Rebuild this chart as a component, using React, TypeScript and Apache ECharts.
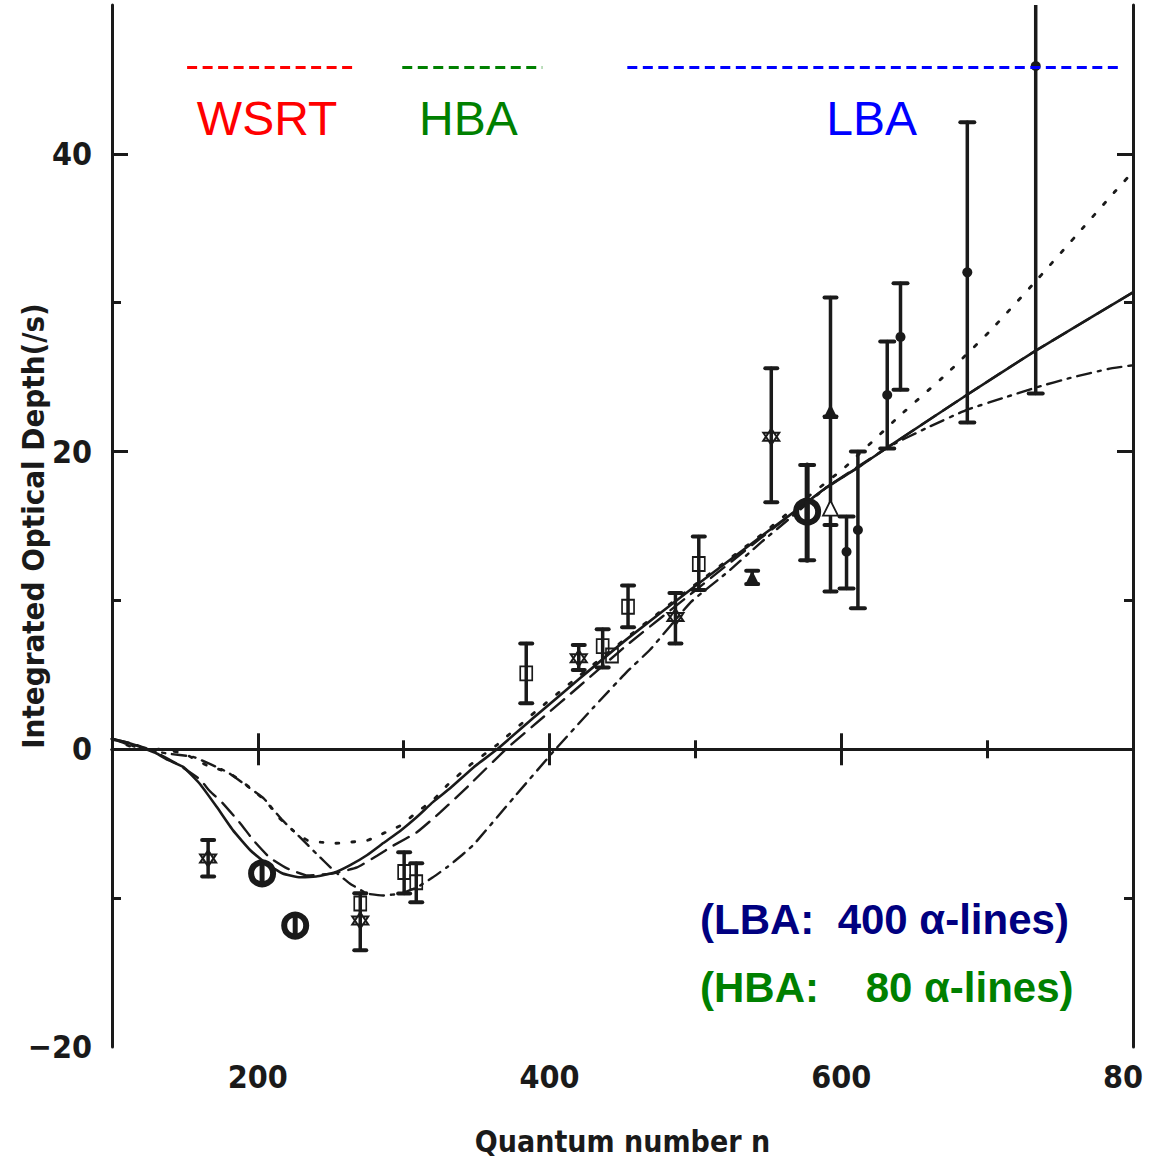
import React, { useEffect, useRef } from 'react';
import * as echarts from 'echarts';

// ---------- axes ----------
const X_MIN = 100;
const X_MAX = 800;
const Y_MIN = -20;
const Y_MAX = 50;
const xLabelTicks = [200, 400, 600, 800];
const xMajorTicks = [200, 400, 600];
const xMinorTicks = [300, 500, 700];
const yLabelTicks = [-20, 0, 20, 40];
const yMajorTicks = [0, 20, 40];
const yMinorTicks = [-10, 10, 30];

// ---------- model curves ----------
const solidN = [100, 112, 122, 131, 138, 149, 160, 172, 183, 195, 206, 217, 229, 240, 252, 263, 275, 286, 298, 309, 320, 332, 348, 364, 390, 420, 453, 499, 545, 567, 590, 611, 632, 686, 732, 800];
const solidV = [0.7, 0.4, 0.05, -0.3, -0.7, -1.2, -2.3, -3.9, -5.45, -6.8, -7.7, -8.35, -8.6, -8.55, -8.3, -7.8, -7.1, -6.3, -5.45, -4.55, -3.55, -2.6, -1.2, 0, 2.2, 4.7, 7.4, 10.9, 14.3, 15.9, 17.6, 18.9, 20.3, 23.8, 26.7, 30.7];

const dotN = [100, 114, 128, 138, 149, 165, 179, 188, 197, 206, 215, 224, 234, 243, 252, 263, 275, 286, 298, 309, 320, 330, 345, 364, 390, 420, 453, 499, 545, 575, 602, 640, 672, 702, 732, 760, 787, 800];
const dotV = [0.7, 0.15, 0.05, -0.07, -0.27, -1.08, -1.53, -2.09, -2.76, -3.55, -4.64, -5.45, -6.12, -6.24, -6.32, -6.24, -6.12, -5.65, -5.11, -4.22, -3.43, -2.4, -1.1, 0.3, 2.5, 4.9, 7.5, 11.0, 14.4, 16.8, 18.9, 22.4, 25.2, 28.1, 31.3, 34.4, 37.4, 38.8];

const dashN = [100, 115, 130, 145, 160, 167, 176, 188, 197, 208, 220, 234, 252, 268, 282, 293, 309, 325, 345, 370, 395, 420, 453, 499, 545, 590, 632, 686, 732, 800];
const dashV = [0.7, 0.35, -0.2, -1.0, -2.0, -2.8, -3.63, -4.98, -6.12, -7.27, -8.0, -8.48, -8.34, -7.94, -7.13, -6.46, -5.58, -4.24, -2.4, 0, 2.1, 4.2, 7.0, 10.6, 14.2, 17.6, 20.3, 23.8, 26.7, 30.7];

const dashDotN = [100, 115, 137, 156, 179, 190, 204, 211, 217, 229, 240, 252, 263, 275, 286, 298, 309, 320, 330, 340, 348, 375, 404, 430, 453, 469, 497, 522, 545, 567, 590, 611, 632, 661, 686, 711, 735, 757, 783, 800];
const dashDotV = [0.7, 0.2, -0.27, -0.52, -1.53, -2.29, -3.3, -4.1, -4.78, -5.92, -7.0, -8.14, -9.01, -9.69, -9.82, -9.69, -9.28, -8.6, -7.9, -7.1, -6.4, -3.3, 0, 2.8, 5.2, 6.7, 9.9, 11.9, 13.9, 15.7, 17.6, 18.9, 20.3, 21.7, 22.8, 23.6, 24.35, 24.95, 25.55, 25.8];

const zeroLineN = [100, 800];
const zeroLineV = [0, 0];

// ---------- measurements ----------
const starPts = [[165.9, -7.33], [270.2, -11.5], [420, 6.12], [486.3, 8.88], [552, 21.0]];
const starErr = [[165.9, -8.54, -6.1], [270.2, -13.5, -9.67], [420, 5.33, 7.0], [486.3, 7.1, 10.5], [552, 16.6, 25.6]];

const squarePts = [[384, 5.1], [436.4, 6.93], [442.8, 6.3], [453.8, 9.57], [502.3, 12.45], [270.2, -10.36], [300.3, -8.25], [308.6, -8.93]];
const squareErr = [[384, 3.1, 7.1], [436.4, 5.5, 8.07], [453.8, 8.2, 11.0], [502.3, 10.7, 14.3], [300.3, -9.69, -6.91], [308.6, -10.28, -7.66]];

const phiPts = [[202.9, -8.34], [225.6, -11.84], [576.6, 15.96]];
const phiErr = [[576.6, 12.7, 19.1]];

const triFilledPts = [[592.6, 22.7], [538.9, 11.5]];
const triFilledErr = [[592.6, 10.6, 30.35], [538.9, 11.1, 12.0]];
const triHollowPts = [[592.6, 16.2]];
const triHollowErr = [[592.6, 15.07, 22.35]];

const dotPts = [[603.6, 13.27], [611.4, 14.73], [631.5, 23.8], [640.6, 27.7], [686.4, 32.04], [733.3, 45.9]];
const dotErr = [[603.6, 10.8, 15.63], [611.4, 9.47, 20.0], [631.5, 20.2, 27.4], [640.6, 24.15, 31.3], [686.4, 21.95, 42.13], [733.3, 23.9, 56]];

// ---------- frequency ranges (top) ----------
const rangeNames = ['WSRT', 'HBA', 'LBA'];
const rangeStart = [151.5, 299, 453.3];
const rangeEnd = [268.1, 395, 790.2];
const rangeLevel = 45.8;
const rangeLabelN = [206.3, 344.3, 620.8];
const rangeLabelLevel = 42.4;
const rangeColors = ['#ff0000', '#008000', '#0000ff'];

const noteTexts = ['(LBA:\u00a0\u00a0400 α-lines)', '(HBA:\u00a0\u00a0\u00a0\u00a080 α-lines)'];

const INK = '#1a1a1a';
const AXIS_FONT = "'DejaVu Sans Condensed', 'DejaVu Sans', sans-serif";
const TEXT_FONT = "'Liberation Sans', Arial, sans-serif";

const zip = (a: number[], b: number[]) => a.map((v, i) => [v, b[i]]);

function errRender(lineW: number, capW: number) {
  return (_p: any, api: any) => {
    const x = api.value(0);
    const lo = api.coord([x, api.value(1)]);
    const hi = api.coord([x, api.value(2)]);
    const st = { stroke: INK, lineWidth: lineW, lineCap: 'round' };
    return {
      type: 'group',
      children: [
        { type: 'line', shape: { x1: lo[0], y1: lo[1], x2: hi[0], y2: hi[1] }, style: st },
        { type: 'line', shape: { x1: lo[0] - capW, y1: lo[1], x2: lo[0] + capW, y2: lo[1] }, style: { ...st, lineWidth: 4 } },
        { type: 'line', shape: { x1: hi[0] - capW, y1: hi[1], x2: hi[0] + capW, y2: hi[1] }, style: { ...st, lineWidth: 4 } },
      ],
    };
  };
}

function errSeries(data: number[][], lineW = 3.5, capW = 6) {
  return {
    type: 'custom',
    clip: true,
    silent: true,
    z: 3,
    renderItem: errRender(lineW, capW),
    encode: { x: 0, y: [1, 2] },
    data,
  };
}

function curve(n: number[], v: number[], dash: any, width = 2.4) {
  return {
    type: 'line',
    data: zip(n, v),
    showSymbol: false,
    symbol: 'none',
    smooth: 0.12,
    silent: true,
    z: 2,
    lineStyle: { color: INK, width, type: dash, cap: 'round', opacity: 1 },
  };
}

const starPath = 'path://M0,-10L8.66,5L-8.66,5Z M0,10L8.66,-5L-8.66,-5Z';

export default function App() {
  const ref = useRef<HTMLDivElement>(null);
  useEffect(() => {
    if (!ref.current) return;
    const chart = echarts.init(ref.current, null, { renderer: 'svg' });

    const baseX = { type: 'value', min: X_MIN, max: X_MAX, interval: 100, splitLine: { show: false } };
    const baseY = { type: 'value', min: Y_MIN, max: Y_MAX, interval: 10, splitLine: { show: false } };
    const axisLineOn = { show: true, lineStyle: { color: INK, width: 3 } };
    const tickStyle = (len: number, vals: number[]) => ({ show: true, inside: true, length: len, customValues: vals, lineStyle: { color: INK, width: 3 } });

    const option: any = {
      animation: false,
      backgroundColor: '#ffffff',
      grid: { left: 112, right: 27, top: 5, bottom: 111, containLabel: false, outerBoundsMode: 'none' },
      xAxis: [
        {
          ...baseX,
          position: 'bottom',
          axisLine: axisLineOn,
          axisTick: tickStyle(16, xMajorTicks),
          axisLabel: {
            customValues: xLabelTicks,
            margin: 14,
            color: INK,
            fontFamily: AXIS_FONT,
            fontWeight: 'bold',
            fontSize: 32,
            formatter: (v: number) => (v === 800 ? '{e|80}' : String(v)),
            rich: { e: { padding: [0, 20, 0, 0], color: INK, fontFamily: AXIS_FONT, fontWeight: 'bold', fontSize: 32 } },
          },
          name: 'Quantum number n',
          nameLocation: 'middle',
          nameGap: 79,
          nameMoveOverlap: false,
          nameTextStyle: { color: INK, fontFamily: AXIS_FONT, fontWeight: 'bold', fontSize: 30 },
        },
        { ...baseX, position: 'bottom', axisLine: { show: false }, axisTick: tickStyle(9, xMinorTicks), axisLabel: { show: false } },
        { ...baseX, position: 'top', axisLine: axisLineOn, axisTick: tickStyle(16, xMajorTicks), axisLabel: { show: false } },
        { ...baseX, position: 'top', axisLine: { show: false }, axisTick: tickStyle(9, xMinorTicks), axisLabel: { show: false } },
      ],
      yAxis: [
        {
          ...baseY,
          position: 'left',
          axisLine: axisLineOn,
          axisTick: tickStyle(16, yMajorTicks),
          axisLabel: {
            customValues: yLabelTicks,
            margin: 20,
            color: INK,
            fontFamily: AXIS_FONT,
            fontWeight: 'bold',
            fontSize: 32,
            formatter: (v: number) => (v < 0 ? '\u2212' + Math.abs(v) : String(v)),
          },
          name: 'Integrated Optical Depth(/s)',
          nameLocation: 'middle',
          nameGap: 64,
          nameMoveOverlap: false,
          nameTextStyle: { color: INK, fontFamily: AXIS_FONT, fontWeight: 'bold', fontSize: 31 },
        },
        { ...baseY, position: 'left', axisLine: { show: false }, axisTick: tickStyle(9, yMinorTicks), axisLabel: { show: false } },
        { ...baseY, position: 'right', axisLine: axisLineOn, axisTick: tickStyle(16, yMajorTicks), axisLabel: { show: false } },
        { ...baseY, position: 'right', axisLine: { show: false }, axisTick: tickStyle(9, yMinorTicks), axisLabel: { show: false } },
      ],
      series: [
        {
          type: 'line',
          data: zip(zeroLineN, zeroLineV),
          showSymbol: false,
          symbol: 'none',
          silent: true,
          z: 1,
          lineStyle: { color: INK, width: 2 },
        },
        curve(solidN, solidV, 'solid', 2.6),
        curve(dashN, dashV, [17, 9], 2.4),
        curve(dotN, dotV, [3, 13], 2.8),
        curve(dashDotN, dashDotV, [14, 7, 3, 7], 2.4),
        errSeries(starErr),
        errSeries(squareErr),
        errSeries(phiErr, 5, 7),
        errSeries(triFilledErr, 3.5, 6),
        errSeries(triHollowErr, 3, 6),
        errSeries(dotErr, 3.5, 7),
        {
          type: 'scatter',
          data: starPts,
          symbol: starPath,
          symbolSize: 16,
          z: 4,
          silent: true,
          itemStyle: { color: 'rgba(255,255,255,0)', borderColor: INK, borderWidth: 2, opacity: 1 },
        },
        {
          type: 'scatter',
          data: squarePts,
          symbol: 'rect',
          symbolSize: [12, 14],
          z: 4,
          silent: true,
          itemStyle: { color: 'rgba(255,255,255,0)', borderColor: INK, borderWidth: 1.8, opacity: 1 },
        },
        {
          type: 'scatter',
          data: triFilledPts,
          symbol: 'triangle',
          symbolSize: 15,
          z: 4,
          silent: true,
          itemStyle: { color: INK, opacity: 1 },
        },
        {
          type: 'scatter',
          data: triHollowPts,
          symbol: 'triangle',
          symbolSize: 15,
          z: 4,
          silent: true,
          itemStyle: { color: '#ffffff', borderColor: INK, borderWidth: 1.8, opacity: 1 },
        },
        {
          type: 'scatter',
          data: dotPts,
          symbol: 'circle',
          symbolSize: 10,
          z: 4,
          silent: true,
          itemStyle: { color: INK, opacity: 1 },
        },
        {
          type: 'custom',
          clip: true,
          silent: true,
          z: 5,
          data: phiPts,
          encode: { x: 0, y: 1 },
          renderItem: (_p: any, api: any) => {
            const c = api.coord([api.value(0), api.value(1)]);
            return {
              type: 'group',
              children: [
                { type: 'circle', shape: { cx: c[0], cy: c[1], r: 11 }, style: { fill: 'none', stroke: INK, lineWidth: 6 } },
                { type: 'line', shape: { x1: c[0], y1: c[1] - 11, x2: c[0], y2: c[1] + 11 }, style: { stroke: INK, lineWidth: 5 } },
              ],
            };
          },
        },
        ...rangeNames.map((name, i) => ({
          type: 'line',
          name,
          data: [[rangeStart[i], rangeLevel], [rangeEnd[i], rangeLevel]],
          showSymbol: false,
          symbol: 'none',
          silent: true,
          z: 6,
          lineStyle: { color: rangeColors[i], width: 3, type: [10, 5.5], opacity: 1 },
        })),
        {
          type: 'scatter',
          data: rangeNames.map((name, i) => ({
            value: [rangeLabelN[i], rangeLabelLevel],
            name,
            itemStyle: { color: rangeColors[i], opacity: 0 },
            label: { color: rangeColors[i], opacity: 1 },
          })),
          symbolSize: 1,
          silent: true,
          z: 6,
          label: {
            show: true,
            position: 'inside',
            formatter: (p: any) => p.name,
            fontFamily: TEXT_FONT,
            fontSize: 48,
            fontWeight: 'normal',
          },
        },
      ],
      graphic: [
        {
          type: 'text',
          left: 700,
          top: 898,
          style: { text: noteTexts[0], fill: '#000080', font: `bold 42px ${TEXT_FONT}` },
        },
        {
          type: 'text',
          left: 700,
          top: 966,
          style: { text: noteTexts[1], fill: '#008000', font: `bold 42px ${TEXT_FONT}` },
        },
      ],
    };

    chart.setOption(option);
    return () => chart.dispose();
  }, []);

  return <div ref={ref} style={{ position: 'absolute', left: 0, top: 0, width: 1160, height: 1158, background: '#fff' }} />;
}
